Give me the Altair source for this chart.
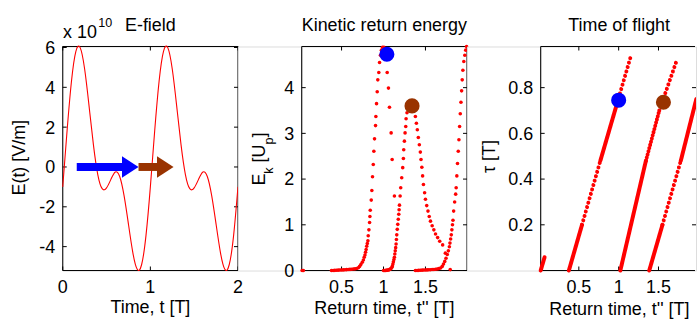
import altair as alt
import pandas as pd

FONT = "Liberation Sans"
RED = "#ff0000"
BLUE = "#0000ff"
BROWN = "#993300"

# ---------------- Panel 1: E-field (units of 1e10 V/m) ----------------
efield_t = [0.00, 0.05, 0.10, 0.15, 0.20, 0.25, 0.30, 0.35, 0.40, 0.45,
            0.50, 0.55, 0.60, 0.65, 0.70, 0.75, 0.80, 0.85, 0.90, 0.95,
            1.00, 1.05, 1.10, 1.15, 1.20, 1.25, 1.30, 1.35, 1.40, 1.45,
            1.50, 1.55, 1.60, 1.65, 1.70, 1.75, 1.80, 1.85, 1.90, 1.95, 2.00]
efield_e = [-1.00, 1.84, 4.32, 5.81, 5.98, 4.92, 3.08, 1.12, -0.38, -1.09,
            -1.05, -0.62, -0.25, -0.48, -1.44, -2.87, -4.30, -5.14, -4.91, -3.45,
            -1.00, 1.84, 4.32, 5.81, 5.98, 4.92, 3.08, 1.12, -0.38, -1.09,
            -1.05, -0.62, -0.25, -0.48, -1.44, -2.87, -4.30, -5.14, -4.91, -3.45, -1.00]

arrow_tail = [0.16, 0.865]
arrow_base = [0.69, 1.09]
arrow_tip = [0.865, 1.265]
arrow_level = [0.0, 0.0]
arrow_color = [BLUE, BROWN]

p1_xticks = [0, 1, 2]
p1_yticks = [-4, -2, 0, 2, 4, 6]

# ---------------- Panel 2: kinetic return energy ----------------
ke_a_x = [0.030, 0.045]
ke_a_y = [0.0, 0.0]
ke_b_x = [0.38, 0.40, 0.42, 0.44, 0.46, 0.48, 0.50, 0.52, 0.54, 0.56, 0.58, 0.60, 0.62, 0.64, 0.66, 0.68,
          0.70, 0.715, 0.73, 0.747, 0.76, 0.77, 0.779, 0.786, 0.793, 0.80, 0.807, 0.814, 0.818, 0.826,
          0.834, 0.838, 0.842, 0.854, 0.861, 0.869, 0.878, 0.885, 0.893, 0.905, 0.909, 0.917, 0.925,
          0.932, 0.944, 0.953, 0.964, 0.975, 0.988, 1.005]
ke_b_y = [0.0, 0.002, 0.004, 0.006, 0.008, 0.010, 0.012, 0.014, 0.016, 0.019, 0.022, 0.025, 0.028, 0.032,
          0.037, 0.045, 0.06, 0.09, 0.13, 0.18, 0.23, 0.29, 0.34, 0.40, 0.46, 0.53, 0.59, 0.65, 0.76,
          0.89, 1.05, 1.18, 1.32, 1.54, 1.75, 2.05, 2.32, 2.61, 2.88, 3.17, 3.37, 3.65, 3.91, 4.17,
          4.33, 4.55, 4.71, 4.82, 4.88, 4.88]
ke_c_x = [1.044, 1.059, 1.071, 1.091, 1.103, 1.13]
ke_c_y = [4.33, 3.99, 3.57, 3.01, 2.43, 1.63]
ke_d_x = [1.00, 1.01, 1.02, 1.03, 1.04, 1.05, 1.06, 1.07, 1.08, 1.09, 1.10, 1.106, 1.112, 1.118, 1.124,
          1.13, 1.135, 1.14, 1.145, 1.15, 1.154, 1.158, 1.164, 1.17, 1.176, 1.182, 1.186, 1.19, 1.198,
          1.205, 1.217, 1.229, 1.237, 1.241, 1.249, 1.257, 1.265, 1.269, 1.28, 1.30, 1.32]
ke_d_y = [0.0, 0.0, 0.002, 0.004, 0.006, 0.009, 0.013, 0.02, 0.03, 0.045, 0.07, 0.10, 0.14, 0.19, 0.24,
          0.29, 0.36, 0.43, 0.50, 0.58, 0.68, 0.78, 0.90, 1.01, 1.12, 1.23, 1.33, 1.43, 1.63, 1.81,
          2.03, 2.25, 2.45, 2.64, 2.83, 3.01, 3.15, 3.32, 3.45, 3.55, 3.60]
ke_e_x = [1.36, 1.38, 1.392, 1.403, 1.415, 1.427, 1.439, 1.447, 1.457, 1.466, 1.476, 1.49, 1.50, 1.515,
          1.53, 1.545, 1.56, 1.58, 1.60, 1.62, 1.645, 1.67, 1.705, 1.737, 1.795]
ke_e_y = [3.52, 3.37, 3.22, 3.08, 2.91, 2.75, 2.59, 2.43, 2.26, 2.07, 1.88, 1.70, 1.56, 1.42, 1.30, 1.18,
          1.08, 0.98, 0.89, 0.80, 0.72, 0.64, 0.56, 0.38, 0.02]
ke_f_x = [1.38, 1.40, 1.42, 1.44, 1.46, 1.48, 1.50, 1.52, 1.54, 1.56, 1.58, 1.60, 1.62, 1.64, 1.66, 1.68,
          1.70, 1.715, 1.73, 1.745, 1.76, 1.773, 1.785, 1.792, 1.80, 1.808, 1.815, 1.822, 1.828, 1.836,
          1.848, 1.86, 1.866, 1.874, 1.882, 1.891, 1.899, 1.907, 1.915, 1.923, 1.931, 1.938, 1.946,
          1.957, 1.969, 1.98, 1.99]
ke_f_y = [0.0, 0.002, 0.004, 0.006, 0.008, 0.010, 0.012, 0.014, 0.016, 0.018, 0.021, 0.024, 0.028, 0.034,
          0.042, 0.055, 0.09, 0.14, 0.20, 0.27, 0.35, 0.43, 0.52, 0.60, 0.69, 0.78, 0.89, 1.00, 1.10,
          1.30, 1.50, 1.67, 1.81, 2.07, 2.34, 2.61, 2.86, 3.15, 3.43, 3.68, 3.93, 4.17, 4.38, 4.57,
          4.71, 4.82, 4.90]
ke_big_x = [1.04, 1.34]
ke_big_y = [4.73, 3.60]
big_color = [BLUE, BROWN]

p2_xticks = [0.5, 1, 1.5]
p2_yticks = [0, 1, 2, 3, 4]

# ---------------- Panel 3: time of flight ----------------
tof_seg = ["A", "A", "B1", "B1", "B2", "B2", "B3", "B3", "B4", "B4",
           "C1", "C1", "C2", "C2", "C3", "C3", "D1", "D1", "D2", "D2", "D3", "D3"]
tof_x = [0.021, 0.07, 0.375, 0.54, 0.54, 0.77, 0.77, 1.0, 1.0, 1.155,
         1.021, 1.342, 1.342, 1.51, 1.51, 1.73, 1.384, 1.55, 1.55, 1.78, 1.78, 1.975]
tof_y = [0.0, 0.058, 0.0, 0.2, 0.2, 0.48, 0.48, 0.755, 0.755, 0.94,
         0.0, 0.48, 0.48, 0.70, 0.70, 0.92, 0.0, 0.2, 0.2, 0.48, 0.48, 0.75]
tof_style = ["dense", "dense", "dense", "dense", "sparse", "sparse", "dense", "dense", "sparse", "sparse",
             "dense", "dense", "medium", "medium", "sparse", "sparse", "dense", "dense", "sparse", "sparse",
             "dense", "dense"]
tof_big_x = [1.0, 1.562]
tof_big_y = [0.745, 0.736]

p3_xticks = [0.5, 1, 1.5]
p3_yticks = [0.2, 0.4, 0.6, 0.8]

# ---------------- layout constants ----------------
H = 225
W1, W2, W3 = 176, 166, 156
GAP1, GAP2 = 63.7, 73.3
ONE = pd.DataFrame({"k": [0]})


def text(s, x, y, size=18, angle=0, align="center"):
    return alt.Chart(pd.DataFrame({"s": [s]})).mark_text(
        font=FONT, fontSize=size, angle=angle, align=align, baseline="alphabetic", color="black"
    ).encode(text="s:N", x=alt.value(x), y=alt.value(y))


def frame(W, right=True):
    edges = [
        alt.Chart(ONE).mark_rule(color="black", strokeWidth=1).encode(
            x=alt.value(0), x2=alt.value(W if right else W - 1), y=alt.value(0)),
        alt.Chart(ONE).mark_rule(color="black", strokeWidth=1).encode(
            x=alt.value(0), x2=alt.value(W if right else W - 1), y=alt.value(H)),
        alt.Chart(ONE).mark_rule(color="black", strokeWidth=1).encode(
            x=alt.value(0), y=alt.value(0), y2=alt.value(H)),
    ]
    if right:
        edges.append(alt.Chart(ONE).mark_rule(color="black", strokeWidth=1).encode(
            x=alt.value(W), y=alt.value(0), y2=alt.value(H)))
    return edges


def inner_ticks(xvals, yvals, xs, ys, W):
    xdf = pd.DataFrame({"v": xvals})
    ydf = pd.DataFrame({"v": yvals})
    out = []
    for yy in (H - 2, 2):
        out.append(alt.Chart(xdf).mark_tick(orient="vertical", size=4, thickness=1, color="black", opacity=1)
                   .encode(x=alt.X("v:Q", scale=xs, axis=None), y=alt.value(yy)))
    for xx in (2, W - 2):
        out.append(alt.Chart(ydf).mark_tick(orient="horizontal", size=4, thickness=1, color="black", opacity=1)
                   .encode(y=alt.Y("v:Q", scale=ys, axis=None), x=alt.value(xx)))
    return out


def tick_labels(xvals, yvals, xs, ys):
    xdf = pd.DataFrame({"v": xvals, "lab": [f"{v:g}" for v in xvals]})
    ydf = pd.DataFrame({"v": yvals, "lab": [f"{v:g}" for v in yvals]})
    xl = alt.Chart(xdf).mark_text(font=FONT, fontSize=18, align="center", baseline="alphabetic",
                                  color="black").encode(
        x=alt.X("v:Q", scale=xs, axis=None), y=alt.value(H + 22.8), text="lab:N")
    yl = alt.Chart(ydf).mark_text(font=FONT, fontSize=18, align="right", baseline="alphabetic",
                                  dy=6.4, color="black").encode(
        y=alt.Y("v:Q", scale=ys, axis=None), x=alt.value(-7.5), text="lab:N")
    return [xl, yl]


# ---------------- Panel 1 ----------------
x1s = alt.Scale(domain=[0, 2], nice=False, zero=False)
y1s = alt.Scale(domain=[-5.2, 6.05], nice=False, zero=False)

df_e = pd.DataFrame({"t": efield_t, "E": efield_e})
curve = alt.Chart(df_e).mark_line(color=RED, strokeWidth=1.1, interpolate="natural").encode(
    x=alt.X("t:Q", scale=x1s, axis=None),
    y=alt.Y("E:Q", scale=y1s, axis=None))

df_arr = pd.DataFrame({"tail": arrow_tail, "base": arrow_base, "tip": arrow_tip,
                       "lvl": arrow_level, "c": arrow_color})
shaft = alt.Chart(df_arr).mark_rule(strokeWidth=8, strokeCap="butt").encode(
    x=alt.X("tail:Q", scale=x1s, axis=None), x2="base:Q",
    y=alt.Y("lvl:Q", scale=y1s, axis=None), color=alt.Color("c:N", scale=None))
head = alt.Chart(df_arr).mark_point(shape="M0,0L-1.55,-1L-1.55,1Z", size=460, filled=True,
                                    opacity=1, strokeWidth=0).encode(
    x=alt.X("tip:Q", scale=x1s, axis=None), y=alt.Y("lvl:Q", scale=y1s, axis=None),
    color=alt.Color("c:N", scale=None))

anchor = alt.Chart(ONE).mark_rect(opacity=0).encode(
    x=alt.value(-62), x2=alt.value(-61), y=alt.value(-45), y2=alt.value(-44))

p1 = alt.layer(
    anchor, *frame(W1), *inner_ticks(p1_xticks, p1_yticks, x1s, y1s, W1),
    *tick_labels(p1_xticks, p1_yticks, x1s, y1s), curve, shaft, head,
    text("E-field", W1 / 2, -15.3),
    text("x 10", 0.3, -8.3, align="left"),
    text("10", 35.7, -20, size=12.6, align="left"),
    text("E(t) [V/m]", -38, 111.7, angle=270),
    text("Time, t [T]", W1 / 2, 268),
).properties(width=W1, height=H)

# ---------------- Panel 2 ----------------
x2s = alt.Scale(domain=[0.025, 1.995], nice=False, zero=False)
y2s = alt.Scale(domain=[0, 4.9], nice=False, zero=False)

df_ke = pd.DataFrame({
    "x": ke_a_x + ke_b_x + ke_c_x + ke_d_x + ke_e_x + ke_f_x,
    "y": ke_a_y + ke_b_y + ke_c_y + ke_d_y + ke_e_y + ke_f_y,
})
dots = alt.Chart(df_ke).mark_circle(size=13, color=RED, opacity=1).encode(
    x=alt.X("x:Q", scale=x2s, axis=None),
    y=alt.Y("y:Q", scale=y2s, axis=None))
big2 = alt.Chart(pd.DataFrame({"x": ke_big_x, "y": ke_big_y, "c": big_color})).mark_circle(
    size=230, opacity=1).encode(
    x=alt.X("x:Q", scale=x2s, axis=None), y=alt.Y("y:Q", scale=y2s, axis=None),
    color=alt.Color("c:N", scale=None))

p2 = alt.layer(
    *frame(W2), *inner_ticks(p2_xticks, p2_yticks, x2s, y2s, W2),
    *tick_labels(p2_xticks, p2_yticks, x2s, y2s), dots, big2,
    text("Kinetic return energy", W2 / 2, -15.3),
    text("Return time, t'' [T]", W2 / 2, 268.5),
    text("E", -36.7, 139.7, angle=270, align="left"),
    text("k", -28.7, 127.7, size=12.6, angle=270, align="left"),
    text("[U", -36.7, 116.4, angle=270, align="left"),
    text("p", -28.7, 98.4, size=12.6, angle=270, align="left"),
    text("]", -36.7, 91.4, angle=270, align="left"),
).properties(width=W2, height=H)

# ---------------- Panel 3 ----------------
x3s = alt.Scale(domain=[0.021, 1.971], nice=False, zero=False)
y3s = alt.Scale(domain=[0, 0.98], nice=False, zero=False)

df_tof = pd.DataFrame({"seg": tof_seg, "x": tof_x, "y": tof_y, "style": tof_style})
dash = alt.StrokeDash("style:N", legend=None,
                      scale=alt.Scale(domain=["dense", "medium", "sparse"],
                                      range=[[1, 0], [0.01, 3.3], [0.01, 4.6]]))
tof_main = alt.Chart(df_tof).transform_filter("datum.seg != 'D3'").mark_line(
    color=RED, strokeWidth=4, strokeCap="round").encode(
    x=alt.X("x:Q", scale=x3s, axis=None),
    y=alt.Y("y:Q", scale=y3s, axis=None),
    detail="seg:N", strokeDash=dash)
tof_edge = alt.Chart(df_tof).transform_filter("datum.seg == 'D3'").mark_line(
    color=RED, strokeWidth=4, strokeCap="round", clip=True).encode(
    x=alt.X("x:Q", scale=x3s, axis=None), y=alt.Y("y:Q", scale=y3s, axis=None),
    detail="seg:N", strokeDash=dash)
big3 = alt.Chart(pd.DataFrame({"x": tof_big_x, "y": tof_big_y, "c": big_color})).mark_circle(
    size=230, opacity=1).encode(
    x=alt.X("x:Q", scale=x3s, axis=None), y=alt.Y("y:Q", scale=y3s, axis=None),
    color=alt.Color("c:N", scale=None))

p3 = alt.layer(
    *frame(W3, right=False), *inner_ticks(p3_xticks, p3_yticks, x3s, y3s, W3),
    *tick_labels(p3_xticks, p3_yticks, x3s, y3s), tof_main, tof_edge, big3,
    text("Time of flight", 78.8, -15.3),
    text("Return time, t'' [T]", 79, 269.5),
    text("τ [T]", -46, 127, angle=270, align="left"),
).properties(width=W3, height=H)


def spacer(w):
    return alt.Chart(ONE).mark_rect(opacity=0).encode(
        x=alt.value(0), x2=alt.value(1), y=alt.value(0), y2=alt.value(1)).properties(width=w, height=H)


chart = alt.hconcat(p1, spacer(GAP1), p2, spacer(GAP2), p3, spacing=0, bounds="flush", padding=0
                    ).configure_view(strokeWidth=0).configure(background="white")

chart.save("out.html", embed_options={"renderer": "svg", "actions": False})
